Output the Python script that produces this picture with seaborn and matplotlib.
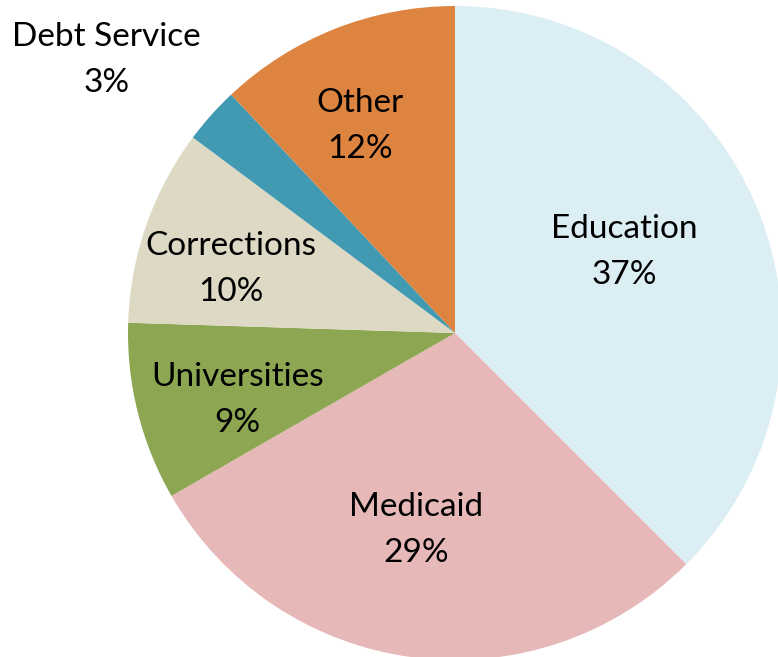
import numpy as np
import matplotlib
matplotlib.use("Agg")
import matplotlib.pyplot as plt
import seaborn as sns

categories = ["Education", "Medicaid", "Universities", "Corrections", "Debt Service", "Other"]
values = [37.5, 29.2, 8.8, 9.7, 2.8, 12.0]
pct_labels = ["37%", "29%", "9%", "10%", "3%", "12%"]
colors = ["#DBEEF4", "#E6B8B7", "#8CA652", "#DDD9C4", "#4299B2", "#DD8440"]
# label placement (radius factor, angle offset in degrees) relative to wedge
label_r = [0.573, 0.614, 0.697, 0.712, 1.353, 0.696]
label_dang = [3.1, -3.6, 3.0, 3.3, 3.7, 3.0]

sns.set_theme(style="white")
plt.rcParams['font.family'] = ['Lato', 'DejaVu Sans']

fig = plt.figure(figsize=(7.78, 6.57), dpi=100)
ax = fig.add_axes([128/778, -3/657, 654/778, 654/657])
wedges, _ = ax.pie(values, colors=colors, startangle=90, counterclock=False,
                   radius=1, wedgeprops=dict(linewidth=0))
for w, name, p, r, da in zip(wedges, categories, pct_labels, label_r, label_dang):
    ang = np.deg2rad((w.theta1 + w.theta2) / 2 + da)
    ax.text(r * np.cos(ang), r * np.sin(ang), f"{name}\n{p}",
            ha="center", va="center", fontsize=24, linespacing=1.68, color="black")
ax.set_xlim(-1, 1)
ax.set_ylim(-1, 1)
ax.set_aspect("equal")
ax.axis("off")
fig.savefig("out.png", dpi=100)
